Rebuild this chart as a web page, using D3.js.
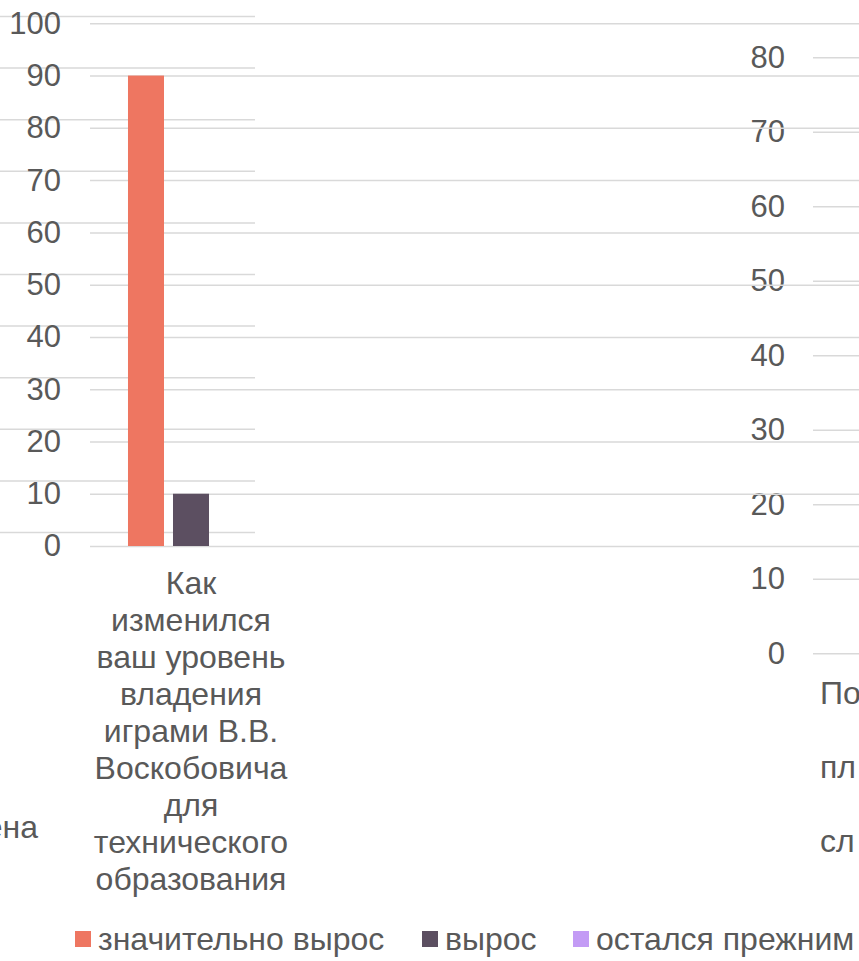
<!DOCTYPE html>
<html>
<head>
<meta charset="utf-8">
<script src="https://cdn.jsdelivr.net/npm/d3@7"></script>
<style>
  body { margin: 0; background: #ffffff; overflow: hidden; }
  text { font-family: "Liberation Sans", Arial, sans-serif; fill: #595959; }
</style>
</head>
<body>
<script>
// Main chart data (the one with the bars)
var seriesNames = ["значительно вырос", "вырос", "остался прежним"];
var seriesColors = ["#ee7661", "#5c4f61", "#c39bf5"];
var category = "Как изменился ваш уровень владения играми В.В. Воскобовича для технического образования";
var categoryLines = ["Как", "изменился", "ваш уровень", "владения", "играми В.В.", "Воскобовича", "для", "технического", "образования"];
var values = [90, 10, 0];
var mainTicks = [0, 10, 20, 30, 40, 50, 60, 70, 80, 90, 100];

// Chart lying behind on the left: only its grid and the tail of its label show
var backTicks = [0, 10, 20, 30, 40, 50, 60, 70, 80, 90, 100];
var backLabel = "ена";

// Chart cut off on the right edge
var rightTicks = [0, 10, 20, 30, 40, 50, 60, 70, 80];
var rightLabelLines = ["По", "пл", "сл"];

var svgWidth = 859;
var svgHeight = 961;
var tickSize = 31;
var labelSize = 32;

var svg = d3.select("body")
  .append("svg")
  .attr("width", svgWidth)
  .attr("height", svgHeight);

// draw a grid axis: labels on the left, lines running right
function gridAxis(g, scale, ticks, len, pad, showLabels) {
  g.call(d3.axisLeft(scale)
      .tickValues(ticks)
      .tickSize(-len)
      .tickPadding(pad)
      .tickFormat(showLabels ? d3.format("d") : ""));
  g.select(".domain").remove();
  g.selectAll(".tick line")
    .attr("stroke", "#d9d9d9")
    .attr("stroke-width", 1.5);
  g.selectAll(".tick text")
    .attr("fill", "#595959")
    .style("font-size", tickSize + "px");
  if (!showLabels) g.selectAll(".tick text").remove();
}

// ---- chart behind (left) ----
var yBack = d3.scaleLinear().domain([0, 100]).range([532, 16]);
var backGroup = svg.append("g").attr("transform", "translate(-10,0)");
gridAxis(backGroup, yBack, backTicks, 265, 29, false);
svg.append("text")
  .attr("x", 38)
  .attr("y", 838)
  .attr("text-anchor", "end")
  .style("font-size", labelSize + "px")
  .text(backLabel);

// ---- chart on the right ----
var yRight = d3.scaleLinear().domain([0, 80]).range([653.3, 57.3]);
var rightGroup = svg.append("g").attr("transform", "translate(813,0)");
gridAxis(rightGroup, yRight, rightTicks, 60, 28, true);
rightGroup.selectAll(".cat")
  .data(rightLabelLines)
  .enter()
  .append("text")
  .attr("class", "cat")
  .attr("x", 7)
  .attr("y", (d, i) => 704 + i * 74)
  .attr("text-anchor", "start")
  .style("font-size", labelSize + "px")
  .text(d => d);

// ---- main chart ----
var plotLeft = 90;
var yMain = d3.scaleLinear().domain([0, 100]).range([546, 23.3]);
var mainGroup = svg.append("g").attr("transform", `translate(${plotLeft},0)`);
gridAxis(mainGroup, yMain, mainTicks, svgWidth - plotLeft, 29, true);

var x0 = d3.scaleBand()
  .domain([category])
  .range([0, 202])
  .paddingInner(0)
  .paddingOuter(0.248);

var x1 = d3.scaleBand()
  .domain(seriesNames)
  .range([0, x0.bandwidth()])
  .paddingInner(0.2)
  .paddingOuter(0.1);

var color = d3.scaleOrdinal().domain(seriesNames).range(seriesColors);

mainGroup.selectAll(".bar")
  .data(seriesNames.map((s, i) => ({ name: s, value: values[i] })))
  .enter()
  .append("rect")
  .attr("class", "bar")
  .attr("x", d => x0(category) + x1(d.name))
  .attr("y", d => yMain(d.value))
  .attr("width", x1.bandwidth())
  .attr("height", d => yMain(0) - yMain(d.value))
  .attr("fill", d => color(d.name));

// wrapped category label under the bars
var catX = x0(category) + x0.bandwidth() / 2;
mainGroup.append("text")
  .attr("text-anchor", "middle")
  .style("font-size", labelSize + "px")
  .selectAll("tspan")
  .data(categoryLines)
  .enter()
  .append("tspan")
  .attr("x", catX)
  .attr("y", (d, i) => 594 + i * 37)
  .text(d => d);

// ---- legend ----
var legendX = [75, 422, 573];
var legend = svg.selectAll(".legend")
  .data(seriesNames)
  .enter()
  .append("g")
  .attr("class", "legend")
  .attr("transform", (d, i) => `translate(${legendX[i]},931)`);

legend.append("rect")
  .attr("width", 16)
  .attr("height", 16)
  .attr("fill", d => color(d));

legend.append("text")
  .attr("x", 23)
  .attr("y", 19)
  .style("font-size", labelSize + "px")
  .text(d => d);
</script>
</body>
</html>
